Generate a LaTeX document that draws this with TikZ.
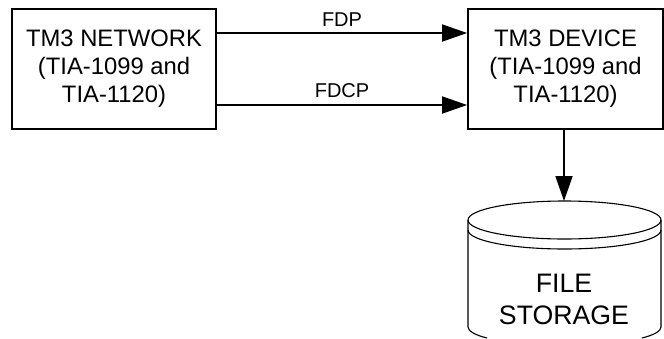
\documentclass[tikz,border=0pt]{standalone}
\usepackage{fontspec}
\setmainfont{Liberation Sans}
\usetikzlibrary{arrows.meta}
\tikzset{
  blockbox/.style={draw=black,line width=1.8pt,minimum width=204pt,minimum height=120pt,inner sep=0pt,align=center,font=\fontsize{23.8}{28.5}\selectfont},
  flow/.style={draw=black,line width=1.8pt,-{Triangle[length=25pt,width=17pt]}},
  cyl/.style={draw=black,line width=1.1pt},
  lbl/.style={inner sep=0pt,font=\fontsize{20}{24}\selectfont},
}
\begin{document}
\begin{tikzpicture}[x=1pt,y=-1pt]
\useasboundingbox (0,0) rectangle (664,338);
\node[blockbox] (net) at (114,69) {\raisebox{-1pt}{TM3 NETWORK}\\(TIA-1099 and\\TIA-1120)};
\node[blockbox,minimum width=195pt] (dev) at (565.5,69) {\raisebox{-1pt}{TM3 DEVICE}\\(TIA-1099 and\\TIA-1120)};
\coordinate (top) at (564,201);
% cylinder
\draw[cyl] (468,220) .. controls (468,209.5) and (511,201) .. (564.5,201)
  .. controls (618,201) and (661,209.5) .. (661,220)
  .. controls (661,230.5) and (618,239) .. (564.5,239)
  .. controls (511,239) and (468,230.5) .. (468,220);
\draw[cyl] (468,230) .. controls (468,240.5) and (511,249) .. (564.5,249)
  .. controls (618,249) and (661,240.5) .. (661,230);
\draw[cyl] (468,220) -- (468,327) .. controls (468,331) and (475,335) .. (487,338);
\draw[cyl] (661,220) -- (661,327) .. controls (661,331) and (654,335) .. (642,338);
\node[inner sep=0pt,align=center,font=\fontsize{26.7}{32}\selectfont] (store) at (564,299.5) {FILE\\STORAGE};
\draw[flow] ([yshift=36pt]net.east) -- node[lbl,pos=0.5,yshift=6pt,anchor=south] (fdp) {FDP} ([yshift=36pt]dev.west);
\draw[flow] ([yshift=-36pt]net.east) -- node[lbl,pos=0.5,yshift=6pt,anchor=south] (fdcp) {FDCP} ([yshift=-36pt]dev.west);
\draw[flow] (dev.south -| top) -- (top);
\end{tikzpicture}
\end{document}
